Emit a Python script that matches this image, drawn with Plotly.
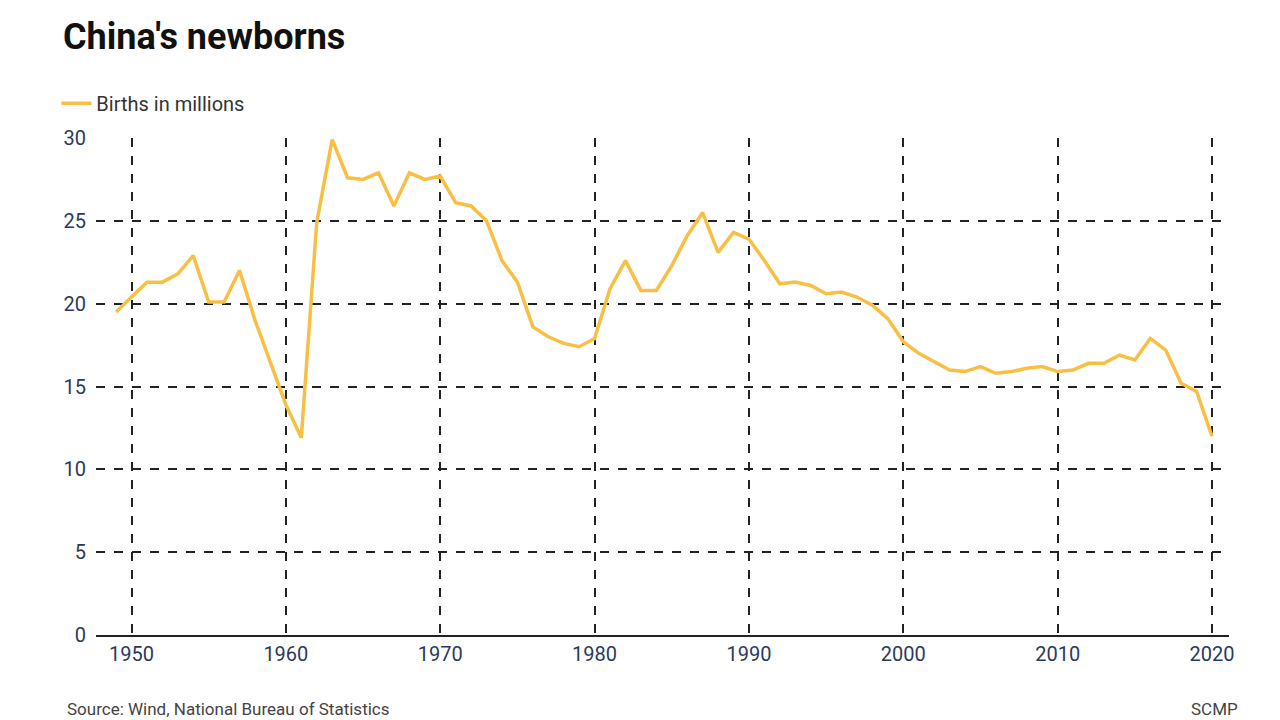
import plotly.graph_objects as go

years = list(range(1949, 2021))
births = [19.5, 20.4, 21.3, 21.3, 21.8, 22.9, 20.1, 20.1, 22.0, 19.0, 16.4, 13.9, 11.9,
          24.9, 29.9, 27.6, 27.5, 27.9, 25.9, 27.9, 27.5, 27.7, 26.1, 25.9, 25.0, 22.6,
          21.3, 18.6, 18.0, 17.6, 17.4, 17.9, 20.9, 22.6, 20.8, 20.8, 22.3, 24.1, 25.5,
          23.1, 24.3, 23.9, 22.6, 21.2, 21.3, 21.1, 20.6, 20.7, 20.4, 19.9, 19.1, 17.7,
          17.0, 16.5, 16.0, 15.9, 16.2, 15.8, 15.9, 16.1, 16.2, 15.9, 16.0, 16.4, 16.4,
          16.9, 16.6, 17.9, 17.2, 15.2, 14.7, 12.0]
xticks = [1950, 1960, 1970, 1980, 1990, 2000, 2010, 2020]
yticks = [0, 5, 10, 15, 20, 25, 30]

fig = go.Figure(go.Scatter(x=years, y=births, mode="lines", name="Births in millions",
                           line=dict(color="#f8bf45", width=3.5), showlegend=True))
tickc = "#2b3a5c"
fig.update_layout(
    width=1280, height=720, plot_bgcolor="white", paper_bgcolor="white",
    font=dict(family="Roboto", size=20, color=tickc),
    margin=dict(l=88, r=59, t=130, b=93),
    title=dict(text="<b>China's newborns</b>", x=0.043, xanchor="left", y=0.96, yanchor="middle",
               font=dict(size=36, color="#111111", family="Roboto")),
    legend=dict(orientation="h", x=-0.035, xanchor="left", y=1.07, yanchor="middle",
                font=dict(size=20, color="#333333")),
    xaxis=dict(range=[1947.7, 2021.1], tickvals=xticks, showgrid=True, griddash="dash",
               gridcolor="#222222", gridwidth=1.5, showline=True, linecolor="#222222", linewidth=1.5,
               ticks="outside", ticklen=0, zeroline=False, tickfont=dict(color=tickc)),
    yaxis=dict(range=[0, 30], tickvals=yticks, showgrid=True, griddash="dash",
               gridcolor="#222222", gridwidth=1.5, zeroline=False, ticks="outside", ticklen=5,
               tickcolor="white", tickfont=dict(color=tickc)),
    annotations=[
        dict(text="Source: Wind, National Bureau of Statistics", xref="paper", yref="paper",
             x=-0.027, y=-0.148, xanchor="left", yanchor="middle", showarrow=False,
             font=dict(size=17, color="#444444")),
        dict(text="SCMP", xref="paper", yref="paper", x=1.01, y=-0.148, xanchor="right",
             yanchor="middle", showarrow=False, font=dict(size=17, color="#444444")),
    ],
)
fig.write_html("out.html")
